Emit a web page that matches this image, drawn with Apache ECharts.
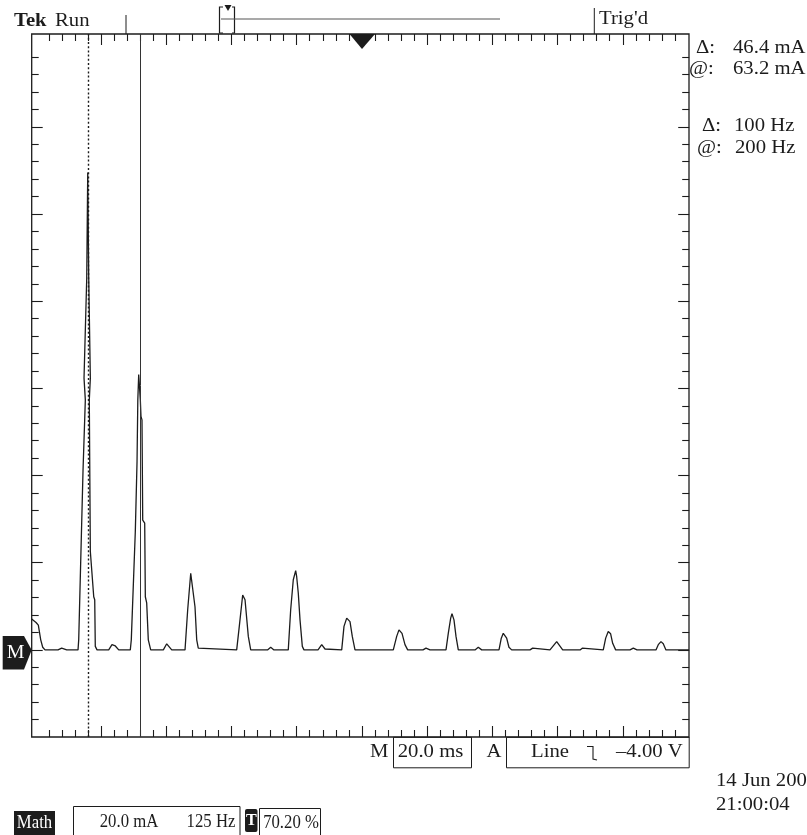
<!DOCTYPE html>
<html><head><meta charset="utf-8">
<script src="https://cdn.jsdelivr.net/npm/echarts@6/dist/echarts.min.js"></script>
<style>html,body{margin:0;padding:0;background:#fff}#c{width:807px;height:835px}</style>
</head><body><div id="c"></div>
<script>
const freqHz = [-7.9, 0.4, 4.8, 9.4, 13.2, 17.6, 42.5, 49.6, 59.2, 80.9, 82.2, 90.5, 92.4, 94.9, 92.4, 97.6, 99.5, 101.4, 104.5, 102.5, 104.5, 107.7, 111.0, 112.9, 114.0, 117.3,
  139.7, 146.0, 152.4, 158.9, 181.1, 183.0, 190.7, 192.0, 194.0, 195.5, 197.2, 200.3, 201.6, 203.5, 204.9, 208.7, 209.9, 212.5, 215.6, 220.2,
  244.4, 250.9, 260.5, 286.0, 291.1, 296.9, 298.8, 300.7, 305.1, 308.4, 311.4,
  385.0, 390.0, 396.5, 397.7, 401.0, 407.3, 411.9, 444.1, 450.2, 456.5,
  483.9, 488.5, 493.5, 498.1, 500.0, 503.1, 506.4, 510.8, 514.0, 540.9, 548.0, 554.3,
  586.3, 590.7, 595.9, 598.9, 602.2, 606.6, 611.8, 644.4, 648.2, 652.0,
  685.2, 691.7, 696.1, 698.6, 701.9, 707.6, 712.8, 742.1, 747.9, 755.5,
  786.2, 790.6, 795.2, 797.7, 801.5, 805.4, 809.8, 841.8, 848.1, 854.6,
  887.8, 892.2, 896.0, 899.3, 902.5, 906.9, 912.1, 947.2, 952.4, 954.8,
  985.5, 998.4, 1009.9, 1043.2, 1047.4, 1050.7,
  1087.7, 1092.3, 1097.2, 1101.8, 1105.7, 1111.4, 1138.9, 1145.2, 1152.3,
  1188.7, 1193.1, 1198.3, 1202.7, 1207.8, 1252];
const currentMA = [7.1, 6.3, 5.7, 2.3, 0.6, 0, 0, 0.4, 0, 0, 2.3, 41.3, 41.7, 57.4, 62.4, 85.4, 109.6, 85.4, 62.4, 57.4, 22.6, 22.3, 12.2, 11.5, 0.8, 0,
  0, 1.2, 0.9, 0, 0, 2.3, 27.2, 27.5, 43.2, 57.4, 63.2, 57.4, 53.6, 52.8, 29.8, 29.1, 12.2, 10.8, 2.3, 0,
  0, 1.4, 0, 0, 9.2, 17.6, 18.0, 17.2, 9.9, 2.3, 0.4,
  0, 5.4, 12.6, 12.8, 11.5, 3.1, 0, 0, 0.6, 0,
  0, 9.2, 16.1, 18.2, 16.8, 13.0, 6.9, 0.8, 0, 0, 1.2, 0.2,
  0, 5.4, 7.3, 7.5, 6.5, 3.1, 0, 0, 0.4, 0,
  0, 3.1, 4.6, 4.8, 3.8, 1.2, 0, 0, 0.4, 0,
  0, 3.8, 7.3, 8.3, 6.9, 3.1, 0, 0, 0.6, 0,
  0, 2.7, 3.8, 4.0, 2.7, 0.6, 0, 0, 0.4, 0,
  0, 1.9, 0, 0, 0.4, 0,
  0, 2.7, 4.2, 3.7, 1.5, 0, 0, 0.4, 0,
  0, 1.2, 1.9, 1.4, 0, 0];
const cursorHz = [100, 200];
const majorHz = [125, 250, 375, 500, 625, 750, 875, 1000, 1125];
const majorMA = [0, 20, 40, 60, 80, 100, 120];
const readoutLabels = ['\u0394:', '@:', '\u0394:', '@:'];
const readoutValues = ['46.4 mA', '63.2 mA', '100 Hz', '200 Hz'];
const statusTexts = ['Run', "Trig'd"];
const bottomTexts = ['M', '20.0 ms', 'A', 'Line', '\u20134.00 V'];
const mathTexts = ['Math', '20.0 mA', '125 Hz', 'T', '70.20 %'];
const dateTexts = ['14 Jun 200', '21:00:04'];

const INK = '#1c1c1c';
const FF = '"Liberation Serif","Times New Roman",serif';
const SX = 1.12;
function T(x, y, s, o) {
  o = o || {};
  const size = o.size || 18.5, weight = o.weight || 'normal', align = o.align || 'left';
  return {type: 'text', x: x, y: y, scaleX: o.sx || SX, z: 100,
    style: {text: s, x: 0, y: 0, fill: o.fill || INK, font: weight + ' ' + size + 'px ' + FF,
      textAlign: align, align: align, textVerticalAlign: 'middle', verticalAlign: 'middle'}};
}
function L(x1, y1, x2, y2, w, c) {
  return {type: 'line', z: 100, shape: {x1: x1, y1: y1, x2: x2, y2: y2}, style: {stroke: c || INK, lineWidth: w || 1}};
}
function R(x, y, w, h, o) {
  o = o || {};
  return {type: 'rect', z: 99, shape: {x: x, y: y, width: w, height: h, r: o.r || 0},
    style: {fill: o.fill || 'none', stroke: o.stroke || (o.fill ? 'none' : INK), lineWidth: o.lw || 1}};
}

const tickStyle = {color: INK, width: 1.1};
function tickAxis(pos, offset, isX) {
  const a = {gridIndex: 1, type: 'value', position: pos, offset: offset,
    axisLine: {show: false, onZero: false}, axisLabel: {show: false}, splitLine: {show: false},
    axisTick: {show: true, inside: true, length: 11, lineStyle: tickStyle, customValues: isX ? majorHz : majorMA},
    minorTick: {show: true, splitNumber: 5, length: 7, lineStyle: tickStyle}};
  if (isX) { a.min = 0; a.max = 1250; a.interval = 125; }
  else { a.min = -20; a.max = 140; a.interval = 20; }
  return a;
}

const MS = {size: 19, sx: 0.88};
const graphics = [
  T(14, 21, 'Tek', {weight: 'bold'}), T(55, 21, statusTexts[0]),
  L(126, 15, 126, 34, 1),
  {type: 'polyline', z: 100, shape: {points: [[223, 7], [219.5, 7], [219.5, 33], [223, 33]]}, style: {stroke: INK, lineWidth: 1.2, fill: 'none'}},
  {type: 'polyline', z: 100, shape: {points: [[232, 7], [234.5, 7], [234.5, 33], [232, 33]]}, style: {stroke: INK, lineWidth: 1.2, fill: 'none'}},
  {type: 'polygon', z: 100, shape: {points: [[224.5, 5], [231.5, 5], [228, 11]]}, style: {fill: INK}},
  L(221, 19, 500, 19, 1.2, '#555'),
  L(594.3, 8, 594.3, 34, 1),
  T(599, 19, statusTexts[1]),
  {type: 'polygon', z: 100, shape: {points: [[349.5, 34], [375, 34], [362, 49]]}, style: {fill: INK}},
  T(696, 48, readoutLabels[0]), T(733, 48, readoutValues[0]),
  T(689, 69, readoutLabels[1]), T(733, 69, readoutValues[1]),
  T(702, 126, readoutLabels[2]), T(734, 126, readoutValues[2]),
  T(697, 148, readoutLabels[3]), T(735, 148, readoutValues[3]),
  {type: 'polygon', z: 100, shape: {points: [[2.7, 636], [24, 636], [31.7, 650], [24, 669.5], [2.7, 669.5]]}, style: {fill: INK}},
  T(15.5, 653, 'M', {fill: '#fff', align: 'center', size: 19, sx: 1.05}),
  T(370, 752, bottomTexts[0]),
  R(393.5, 737.3, 78, 30.5),
  T(430.5, 752, bottomTexts[1], {align: 'center'}),
  T(486.5, 752, bottomTexts[2]),
  R(506.5, 737.3, 182.7, 30.5),
  T(531, 752, bottomTexts[3]),
  {type: 'polyline', z: 100, shape: {points: [[587, 746.5], [593, 746.5], [593, 759], [597, 760]]}, style: {stroke: INK, lineWidth: 1.1, fill: 'none'}},
  T(616, 752, bottomTexts[4]),
  T(716, 781, dateTexts[0]), T(716, 805, dateTexts[1]),
  R(14, 811, 41, 30, {fill: INK}),
  T(34.5, 823, mathTexts[0], {fill: '#fff', align: 'center', size: 19, sx: 0.88}),
  R(73.5, 806.5, 166.5, 40),
  T(129, 822, mathTexts[1], Object.assign({align: 'center'}, MS)),
  T(211, 822, mathTexts[2], Object.assign({align: 'center'}, MS)),
  R(245, 809, 12.5, 23, {fill: INK, r: 2}),
  T(251.3, 820.5, mathTexts[3], {fill: '#fff', align: 'center', weight: 'bold', size: 17, sx: 0.95}),
  R(259.5, 808.5, 61, 40),
  T(291, 823, mathTexts[4], Object.assign({align: 'center'}, MS))
];

const chart = echarts.init(document.getElementById('c'), null, {renderer: 'canvas'});
chart.setOption({
  animation: false,
  backgroundColor: '#fff',
  grid: [
    {left: 31.7, top: 34, width: 657.3, height: 703, show: true, borderColor: INK, borderWidth: 1.3, backgroundColor: 'transparent'},
    {left: 35.8, top: 39.7, width: 652.2, height: 697.3}
  ],
  xAxis: [
    {gridIndex: 0, type: 'value', min: -7.9, max: 1252, show: false},
    tickAxis('bottom', 0, true),
    tickAxis('top', 5.7, true)
  ],
  yAxis: [
    {gridIndex: 0, type: 'value', min: -20, max: 141.4, show: false},
    tickAxis('left', 4.1, false),
    tickAxis('right', 1.2, false)
  ],
  series: [{
    type: 'line', xAxisIndex: 0, yAxisIndex: 0, symbol: 'none', silent: true,
    lineStyle: {color: INK, width: 1.3},
    data: freqHz.map((f, i) => [f, currentMA[i]]),
    markLine: {
      symbol: ['none', 'none'], silent: true, animation: false, label: {show: false},
      data: [
        {xAxis: cursorHz[0], lineStyle: {type: [2, 2.2], width: 1.4, color: INK}},
        {xAxis: cursorHz[1], lineStyle: {type: 'solid', width: 1, color: '#333'}}
      ]
    }
  }],
  graphic: graphics
});
</script></body></html>
